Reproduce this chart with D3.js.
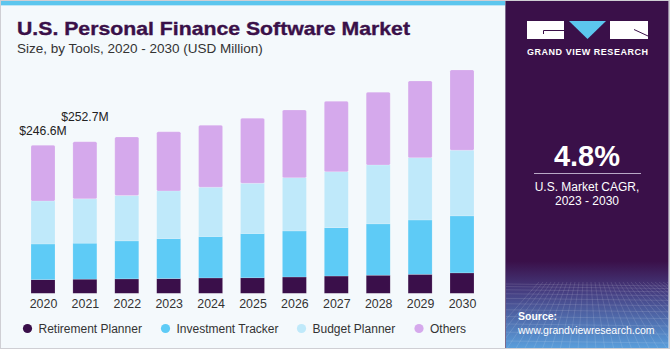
<!DOCTYPE html>
<html>
<head>
<meta charset="utf-8">
<script src="https://cdn.jsdelivr.net/npm/d3@7"></script>
<style>
  html, body { margin: 0; padding: 0; background: #fff; }
  svg { display: block; font-family: "Liberation Sans", Arial, sans-serif; }
</style>
</head>
<body>
<svg id="chart" width="670" height="350"></svg>
<script>
// values (USD million)
const years = ["2020", "2021", "2022", "2023", "2024", "2025", "2026", "2027", "2028", "2029", "2030"];
const retirementPlanner = [22.7, 23.6, 24.0, 24.5, 25.6, 25.8, 27.2, 28.8, 30.2, 31.7, 34.0];
const investmentTracker = [59.5, 60.0, 63.3, 66.7, 69.0, 73.8, 76.7, 80.5, 85.5, 90.5, 95.0];
const budgetPlanner = [71.7, 73.8, 75.5, 79.5, 82.2, 83.8, 88.8, 93.3, 98.3, 103.8, 109.5];
const others = [92.7, 95.3, 97.7, 98.5, 103.3, 108.3, 112.8, 117.3, 121.2, 127.8, 133.8];
const seriesNames = ["Retirement Planner", "Investment Tracker", "Budget Planner", "Others"];
const seriesColors = ["#3a0f4a", "#5ecbf6", "#bfe9fa", "#d5a9ec"];
const totalLabels = [{ year: "2020", text: "$246.6M", lift: 10 }, { year: "2021", text: "$252.7M", lift: 20.5 }];

const svg = d3.select("#chart");

// background + frame
svg.append("rect").attr("x", 0.5).attr("y", 0.5).attr("width", 669).attr("height", 348)
  .attr("fill", "#f4f9fc").attr("stroke", "#cfcfd4");
svg.append("rect").attr("x", 1).attr("y", 1).attr("width", 505).attr("height", 4).attr("fill", "#5cc6ee");
svg.append("rect").attr("x", 1).attr("y", 5).attr("width", 505).attr("height", 1).attr("fill", "#bfe6f6");

// title
svg.append("text").attr("x", 17).attr("y", 35)
  .attr("font-size", "18.5px").attr("font-weight", 900).attr("fill", "#3a1049")
  .attr("stroke", "#3a1049").attr("stroke-width", 0.35)
  .attr("textLength", 393).attr("lengthAdjust", "spacingAndGlyphs")
  .text("U.S. Personal Finance Software Market");
svg.append("text").attr("x", 17).attr("y", 53)
  .attr("font-size", "13.5px").attr("fill", "#333")
  .text("Size, by Tools, 2020 - 2030 (USD Million)");

// right panel
const defs = svg.append("defs");
const grad = defs.append("linearGradient").attr("id", "panelGrad").attr("x1", 0).attr("y1", 0).attr("x2", 0).attr("y2", 1);
grad.append("stop").attr("offset", "0").attr("stop-color", "#3a1049");
grad.append("stop").attr("offset", "0.75").attr("stop-color", "#3a1049");
grad.append("stop").attr("offset", "0.84").attr("stop-color", "#463f82");
grad.append("stop").attr("offset", "1").attr("stop-color", "#5a9edb");
defs.append("clipPath").attr("id", "gridClip").append("rect")
  .attr("x", 506).attr("y", 282).attr("width", 162).attr("height", 66);

svg.append("rect").attr("x", 505.5).attr("y", 1).attr("width", 163).attr("height", 347)
  .attr("fill", "url(#panelGrad)");
svg.append("line").attr("x1", 505.5).attr("x2", 505.5).attr("y1", 1).attr("y2", 348)
  .attr("stroke", "#7c6a8c").attr("stroke-width", 1);

// faint grid texture in the source area
const gridG = svg.append("g").attr("clip-path", "url(#gridClip)")
  .attr("stroke", "#ffffff").attr("stroke-opacity", 0.15).attr("stroke-width", 0.8).attr("fill", "none");
d3.range(0, 14).forEach(function (i) {
  const y = 284 + i * i * 0.35 + i * 2.2;
  gridG.append("line").attr("x1", 506).attr("x2", 668).attr("y1", y).attr("y2", y + 2);
});
d3.range(-12, 24).forEach(function (i) {
  const x = 587 + i * 9;
  gridG.append("line").attr("x1", 587 + i * 4).attr("y1", 282).attr("x2", x).attr("y2", 350);
});

// logo
const logo = svg.append("g");
logo.append("rect").attr("x", 527).attr("y", 21).attr("width", 37).attr("height", 18).attr("fill", "#fff");
logo.append("path").attr("d", "M569,21 L606,21 L587.5,39 Z").attr("fill", "#5cc6ee");
logo.append("rect").attr("x", 610).attr("y", 21).attr("width", 38).attr("height", 18).attr("fill", "#fff");
logo.append("path").attr("d", "M543.5,34 L543.5,30.5 L564,30.5").attr("stroke", "#3a1049").attr("stroke-width", 1).attr("fill", "none");
logo.append("path").attr("d", "M634,29.5 L648,36").attr("stroke", "#3a1049").attr("stroke-width", 1).attr("fill", "none");
svg.append("text").attr("x", 527).attr("y", 55)
  .attr("font-size", "9px").attr("font-weight", "bold").attr("fill", "#fff")
  .attr("textLength", 121).attr("lengthAdjust", "spacing")
  .text("GRAND VIEW RESEARCH");

// CAGR block
svg.append("text").attr("x", 587).attr("y", 166).attr("text-anchor", "middle")
  .attr("font-size", "29px").attr("font-weight", "bold").attr("fill", "#fff").text("4.8%");
svg.append("line").attr("x1", 534).attr("x2", 641).attr("y1", 173.5).attr("y2", 173.5)
  .attr("stroke", "#b9a9c6").attr("stroke-width", 1.2);
svg.append("text").attr("x", 587).attr("y", 191).attr("text-anchor", "middle")
  .attr("font-size", "12px").attr("fill", "#fff").text("U.S. Market CAGR,");
svg.append("text").attr("x", 587).attr("y", 205).attr("text-anchor", "middle")
  .attr("font-size", "12px").attr("fill", "#fff").text("2023 - 2030");

// source
svg.append("text").attr("x", 518).attr("y", 319.5)
  .attr("font-size", "10.5px").attr("font-weight", "bold").attr("fill", "#fff").text("Source:");
svg.append("text").attr("x", 518).attr("y", 333.5)
  .attr("font-size", "10.5px").attr("fill", "#fff").text("www.grandviewresearch.com");

// chart
const baseY = 293.3;
const x = d3.scalePoint().domain(years).range([43, 462]);
const y = d3.scaleLinear().domain([0, 400]).range([baseY, baseY - 240]);
const barW = 24;

const table = years.map(function (yr, i) {
  return {
    year: yr,
    "Retirement Planner": retirementPlanner[i],
    "Investment Tracker": investmentTracker[i],
    "Budget Planner": budgetPlanner[i],
    "Others": others[i]
  };
});
const stacked = d3.stack().keys(seriesNames)(table);
const color = d3.scaleOrdinal().domain(seriesNames).range(seriesColors);

const barsG = svg.append("g");
stacked.forEach(function (layer) {
  barsG.append("g").attr("fill", color(layer.key))
    .selectAll("rect").data(layer).enter().append("rect")
    .attr("x", function (d) { return x(d.data.year) - barW / 2; })
    .attr("y", function (d) { return y(d[1]); })
    .attr("width", barW)
    .attr("height", function (d) { return y(d[0]) - y(d[1]); })
    .attr("rx", layer.key === "Others" ? 1.5 : 0)
    .attr("stroke", "#ffffff").attr("stroke-opacity", 0.35).attr("stroke-width", 0.5);
});

// total labels
const totals = table.map(function (d) { return d3.sum(seriesNames, function (k) { return d[k]; }); });
svg.append("g").selectAll("text").data(totalLabels).enter().append("text")
  .attr("x", function (d) { return x(d.year); })
  .attr("y", function (d) { return y(totals[years.indexOf(d.year)]) - d.lift; })
  .attr("text-anchor", "middle").attr("font-size", "12.2px").attr("fill", "#222")
  .text(function (d) { return d.text; });

// x axis
const xAxis = svg.append("g").attr("transform", "translate(0," + baseY + ")")
  .call(d3.axisBottom(x).tickSize(0).tickPadding(5.5));
xAxis.select(".domain").remove();
xAxis.selectAll("text").attr("font-size", "12.4px").attr("fill", "#333")
  .attr("font-family", "'Liberation Sans', Arial, sans-serif");

// legend
const legendX = [27.5, 165.5, 301.5, 419];
const legend = svg.append("g").selectAll("g").data(seriesNames).enter().append("g")
  .attr("transform", function (d, i) { return "translate(" + legendX[i] + ",328.5)"; });
legend.append("circle").attr("r", 4.6).attr("fill", function (d) { return color(d); });
legend.append("text").attr("x", 11).attr("y", 4.2)
  .attr("font-size", "12px").attr("fill", "#333")
  .text(function (d) { return d; });
</script>
</body>
</html>
